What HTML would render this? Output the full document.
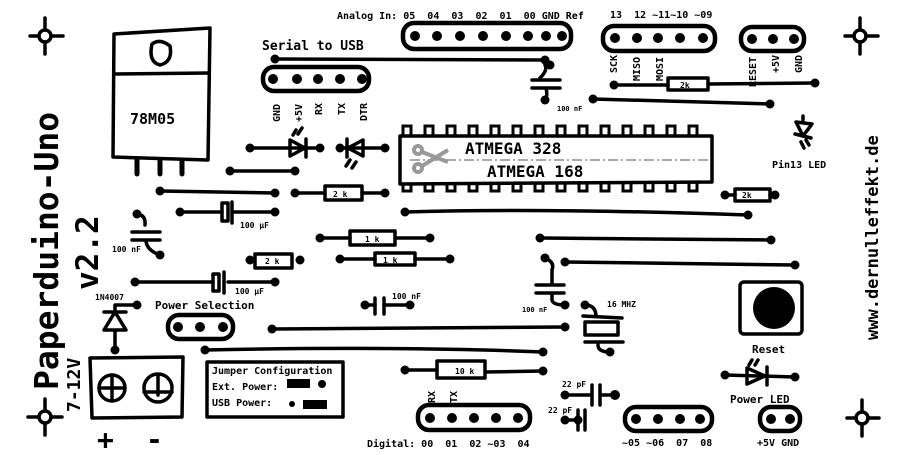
<!DOCTYPE html>
<html><head><meta charset="utf-8"><style>
html,body{margin:0;padding:0;background:#fff;}
svg{display:block;}
text{font-family:"DejaVu Sans Mono","Liberation Mono",monospace;font-weight:bold;fill:#000;white-space:pre;}
</style></head><body>
<svg width="900" height="455" viewBox="0 0 900 455" xmlns="http://www.w3.org/2000/svg" xml:space="preserve">
<rect width="900" height="455" fill="#fff"/>
<g stroke="#000" stroke-width="3.5" fill="none" stroke-linecap="round" stroke-linejoin="round">
<circle cx="45" cy="36" r="6"/><path d="M45 18v12M45 42v12M30 36h9M51 36h12"/>
<circle cx="860" cy="36" r="6"/><path d="M860 18v12M860 42v12M845 36h9M866 36h12"/>
<circle cx="45" cy="417" r="6"/><path d="M45 399v12M45 423v12M28 417h11M51 417h11"/>
<circle cx="862" cy="418" r="6"/><path d="M862 400v12M862 424v12M847 418h9M868 418h11"/>
<path d="M114 34 L210 28 L208 160 L113 157 Z"/><path d="M114 74 L209 73"/>
<path d="M152 44 Q160 38 170 46 Q173 62 160 65 Q148 62 152 44Z"/>
<path d="M137 160v14M160 160v14M182 160v14" stroke-width="5"/>
<g stroke-width="4.5">
<rect x="403" y="23" width="168" height="26" rx="11"/>
<rect x="603" y="26" width="112" height="25" rx="11"/>
<rect x="741" y="27" width="63" height="24" rx="11"/>
<rect x="263" y="67" width="106" height="24" rx="11"/>
<rect x="168" y="315" width="65" height="24" rx="11"/>
<rect x="418" y="405" width="112" height="25" rx="11"/>
<rect x="625" y="407" width="87" height="24" rx="11"/>
<rect x="760" y="407" width="40" height="24" rx="11"/>
</g>
<path d="M275 59 L545 60"/>
<path d="M614 85 L668 85 M708 84 L815 83"/>
<path d="M593 99 L770 104"/>
<path d="M250 148 L320 148 M340 148 L385 148"/>
<path d="M230 171 L295 171"/>
<path d="M160 191 L275 193"/>
<path d="M295 193 L325 193 M362 193 L385 193"/>
<path d="M725 195 L735 195 M770 195 L775 195"/>
<path d="M405 212 Q550 208 748 215"/>
<path d="M540 238 L771 240"/>
<path d="M180 212 L222 212 M232 212 L275 212"/>
<path d="M320 238 L350 238 M395 238 L430 238"/>
<path d="M340 259 L375 259 M415 259 L450 259"/>
<path d="M135 282 L213 282 M228 282 L275 282"/>
<path d="M365 305 L375 305 M384 305 L410 305"/>
<path d="M272 329 L565 327"/>
<path d="M205 350 Q400 346 543 352"/>
<path d="M405 370 L437 370 M485 372 L543 371"/>
<path d="M565 262 L795 265"/>
<path d="M725 375 L795 377"/>
<path d="M565 395 L592 395 M600 395 L615 395"/>
<path d="M565 420 L578 420"/>
<rect x="668" y="78" width="40" height="12"/>
<rect x="325" y="186" width="37" height="14"/>
<rect x="735" y="189" width="35" height="12"/>
<rect x="350" y="231" width="45" height="14"/>
<rect x="375" y="253" width="40" height="12"/>
<rect x="255" y="254" width="37" height="14"/>
<rect x="437" y="361" width="48" height="17"/>
<path d="M222 203v18h6v-18z M232 202v21"/>
<path d="M213 274v17h6v-17z M224 272v21"/>
<path d="M375 298v16M384 298v16"/>
<path d="M592 385v20M600 385v20"/>
<path d="M578 410v20M585 410v20"/>
<path d="M545 65 Q548 70 540 78 M532 80h28 M532 88h28 M546 88 Q548 96 545 100"/>
<path d="M137 214 Q146 215 145 225 M132 232h28 M132 240h28 M146 240 Q146 250 160 255"/>
<path d="M545 258 Q555 262 552 270 L552 285 M536 285h28 M536 293h28 M552 293 L552 300 Q553 305 565 305"/>
<path d="M585 305 Q595 305 596 315 M583 316 L622 318 M585 322h33v13h-33z M585 342h38 M598 345 Q598 352 610 352"/>
<path d="M400 136 L712 136 L712 182 L400 184 Z"/>
<path d="M115 305 L137 305 M115 305 L115 312 M104 312h22 M104 330 L115 312 L126 330 Z M115 330v18"/>
<path d="M290 140 L305 148 L290 156 Z M306 139v18 M302 128 l-4 6 M296 130 l-3 5"/>
<path d="M363 140 L348 148 L363 156 Z M347 139v18 M350 160 l-4 6 M356 162 l-4 6"/>
<path d="M747 368 L765 376 L747 384 Z M767 367v18 M752 360 l-3 5 M758 360 l-3 5"/>
<path d="M796 122 L812 124 L803 136 Z M795 134 L811 138 M803 120 L803 116 M801 142 l3 6 M806 140 l3 5"/>
<path d="M90 358 L183 357 L182 417 L92 418 Z"/>
<circle cx="112" cy="388" r="13"/><path d="M99 388h26M112 375v26"/>
<circle cx="158" cy="388" r="14"/><path d="M144 392h28M158 375v20"/>
<rect x="207" y="362" width="136" height="55"/>
<rect x="740" y="282" width="62" height="52" rx="4"/>
</g>
<g fill="#000">
<rect x="287" y="379" width="23" height="9"/><circle cx="322" cy="384" r="4"/>
<circle cx="292" cy="404" r="3"/><rect x="303" y="400" width="24" height="9"/>
<ellipse cx="774" cy="308" rx="21" ry="21"/>
<circle cx="275" cy="59" r="4.5"/><circle cx="545" cy="60" r="4.5"/>
<circle cx="614" cy="85" r="4.5"/><circle cx="815" cy="83" r="4.5"/>
<circle cx="593" cy="99" r="4.5"/><circle cx="770" cy="104" r="4.5"/>
<circle cx="250" cy="148" r="4.5"/><circle cx="320" cy="148" r="4.5"/><circle cx="340" cy="148" r="4.5"/><circle cx="385" cy="148" r="4.5"/>
<circle cx="230" cy="171" r="4.5"/><circle cx="295" cy="171" r="4.5"/>
<circle cx="160" cy="191" r="4.5"/><circle cx="275" cy="193" r="4.5"/>
<circle cx="295" cy="193" r="4.5"/><circle cx="385" cy="193" r="4.5"/>
<circle cx="725" cy="195" r="4.5"/><circle cx="775" cy="195" r="4.5"/>
<circle cx="405" cy="212" r="4.5"/><circle cx="748" cy="215" r="4.5"/>
<circle cx="540" cy="238" r="4.5"/><circle cx="771" cy="240" r="4.5"/>
<circle cx="180" cy="212" r="4.5"/><circle cx="275" cy="212" r="4.5"/>
<circle cx="320" cy="238" r="4.5"/><circle cx="430" cy="238" r="4.5"/>
<circle cx="340" cy="259" r="4.5"/><circle cx="450" cy="259" r="4.5"/>
<circle cx="250" cy="260" r="4.5"/><circle cx="300" cy="260" r="4.5"/>
<circle cx="135" cy="282" r="4.5"/><circle cx="275" cy="282" r="4.5"/>
<circle cx="365" cy="305" r="4.5"/><circle cx="410" cy="305" r="4.5"/>
<circle cx="272" cy="329" r="4.5"/><circle cx="565" cy="327" r="4.5"/>
<circle cx="205" cy="350" r="4.5"/><circle cx="543" cy="352" r="4.5"/>
<circle cx="405" cy="370" r="4.5"/><circle cx="543" cy="371" r="4.5"/>
<circle cx="565" cy="262" r="4.5"/><circle cx="795" cy="265" r="4.5"/>
<circle cx="725" cy="375" r="4.5"/><circle cx="795" cy="377" r="4.5"/>
<circle cx="565" cy="395" r="4.5"/><circle cx="615" cy="395" r="5"/>
<circle cx="565" cy="420" r="4.5"/><circle cx="578" cy="420" r="4.5"/>
<circle cx="137" cy="305" r="4.5"/><circle cx="115" cy="350" r="4.5"/>
<circle cx="545" cy="100" r="4.5"/><circle cx="160" cy="255" r="4.5"/><circle cx="137" cy="214" r="4.5"/>
<circle cx="545" cy="258" r="4.5"/><circle cx="565" cy="305" r="4.5"/>
<circle cx="585" cy="305" r="4.5"/><circle cx="610" cy="352" r="4.5"/>
<circle cx="550" cy="65" r="4.5"/>
<circle cx="415" cy="36" r="5"/><circle cx="437" cy="36" r="5"/><circle cx="460" cy="36" r="5"/><circle cx="483" cy="36" r="5"/><circle cx="506" cy="36" r="5"/><circle cx="528" cy="36" r="5"/><circle cx="546" cy="36" r="5"/><circle cx="562" cy="36" r="5"/>
<circle cx="615" cy="38" r="5"/><circle cx="637" cy="38" r="5"/><circle cx="658" cy="38" r="5"/><circle cx="680" cy="38" r="5"/><circle cx="703" cy="38" r="5"/>
<circle cx="752" cy="39" r="5"/><circle cx="773" cy="39" r="5"/><circle cx="794" cy="39" r="5"/>
<circle cx="273" cy="79" r="5"/><circle cx="297" cy="79" r="5"/><circle cx="318" cy="79" r="5"/><circle cx="340" cy="79" r="5"/><circle cx="362" cy="79" r="5"/>
<circle cx="178" cy="327" r="5"/><circle cx="200" cy="327" r="5"/><circle cx="223" cy="327" r="5"/>
<circle cx="430" cy="418" r="5"/><circle cx="452" cy="418" r="5"/><circle cx="474" cy="418" r="5"/><circle cx="496" cy="418" r="5"/><circle cx="518" cy="418" r="5"/>
<circle cx="636" cy="419" r="5"/><circle cx="658" cy="419" r="5"/><circle cx="680" cy="419" r="5"/><circle cx="700" cy="419" r="5"/>
<circle cx="771" cy="419" r="5"/><circle cx="790" cy="419" r="5"/>
</g>
<g fill="none" stroke="#000" stroke-width="3">
<path d="M403 136v-10h8v10M425 136v-10h8v10M447 136v-10h8v10M469 136v-10h8v10M491 136v-10h8v10M513 136v-10h8v10M535 136v-10h8v10M557 136v-10h8v10M579 136v-10h8v10M601 136v-10h8v10M623 136v-10h8v10M645 136v-10h8v10M667 136v-10h8v10M689 136v-10h8v10"/>
<path d="M403 183v8h8v-8M425 183v8h8v-8M447 183v8h8v-8M469 183v8h8v-8M491 183v8h8v-8M513 183v8h8v-8M535 183v8h8v-8M557 183v8h8v-8M579 183v8h8v-8M601 183v8h8v-8M623 183v8h8v-8M645 183v8h8v-8M667 183v8h8v-8M689 183v8h8v-8"/>
</g>
<path d="M410 160 L708 160" stroke="#aaa" stroke-width="2" stroke-dasharray="10 3 2 3"/>
<g stroke="#999" stroke-width="4" fill="none"><circle cx="418" cy="150" r="4"/><circle cx="418" cy="168" r="4"/><path d="M422 152 L448 162 M422 166 L448 150"/></g>
<text x="58" y="390" font-size="33" transform="rotate(-90 58 390)">Paperduino-Uno</text>
<text x="98" y="290" font-size="31" transform="rotate(-90 98 290)">v2.2</text>
<text x="80" y="412" font-size="18" transform="rotate(-90 80 412)">7-12V</text>
<text x="878" y="340" font-size="17" transform="rotate(-90 878 340)">www.dernulleffekt.de</text>
<text x="130" y="124" font-size="15">78M05</text>
<text x="337" y="19" font-size="10">Analog In: 05  04  03  02  01  00 GND Ref</text>
<text x="610" y="18" font-size="10">13  12 ~11~10 ~09</text>
<text x="262" y="50" font-size="13">Serial to USB</text>
<g font-size="10">
<text transform="translate(280 122) rotate(-90)">GND</text>
<text transform="translate(302 122) rotate(-90)">+5V</text>
<text transform="translate(322 115) rotate(-90)">RX</text>
<text transform="translate(345 115) rotate(-90)">TX</text>
<text transform="translate(367 121) rotate(-90)">DTR</text>
<text transform="translate(617 73) rotate(-90)">SCK</text>
<text transform="translate(640 81) rotate(-90)">MISO</text>
<text transform="translate(663 81) rotate(-90)">MOSI</text>
<text transform="translate(756 87) rotate(-90)">RESET</text>
<text transform="translate(779 73) rotate(-90)">+5V</text>
<text transform="translate(802 73) rotate(-90)">GND</text>
<text transform="translate(435 403) rotate(-90)">RX</text>
<text transform="translate(457 403) rotate(-90)">TX</text>
</g>
<text x="465" y="154" font-size="16">ATMEGA 328</text>
<text x="487" y="177" font-size="16">ATMEGA 168</text>
<text x="772" y="168" font-size="10">Pin13 LED</text>
<text x="557" y="111" font-size="7">100 nF</text>
<g font-family="Liberation Sans" font-size="8">
<text x="680" y="88">2k</text><text x="333" y="197">2 k</text><text x="742" y="198">2k</text>
<text x="365" y="242">1 k</text><text x="383" y="263">1 k</text><text x="265" y="264">2 k</text>
<text x="455" y="374">10 k</text>
<text x="240" y="228">100 µF</text><text x="235" y="294">100 µF</text>
<text x="112" y="252">100 nF</text><text x="392" y="299">100 nF</text>
<text x="562" y="387">22 pF</text><text x="548" y="413">22 pF</text>
</g>
<text x="522" y="312" font-size="7">100 nF</text>
<text x="607" y="307" font-size="8">16 MHZ</text>
<text x="95" y="300" font-size="8">1N4007</text>
<text x="155" y="309" font-size="11">Power Selection</text>
<text x="212" y="374" font-size="10">Jumper Configuration</text>
<text x="212" y="390" font-size="10">Ext. Power:</text>
<text x="212" y="406" font-size="10">USB Power:</text>
<text x="97" y="449" font-size="28">+</text>
<text x="146" y="449" font-size="28">-</text>
<text x="367" y="447" font-size="10">Digital: 00  01  02 ~03  04</text>
<text x="622" y="446" font-size="10">~05 ~06  07  08</text>
<text x="757" y="446" font-size="10">+5V GND</text>
<text x="752" y="353" font-size="11">Reset</text>
<text x="730" y="403" font-size="11">Power LED</text>
</svg>
</body></html>
